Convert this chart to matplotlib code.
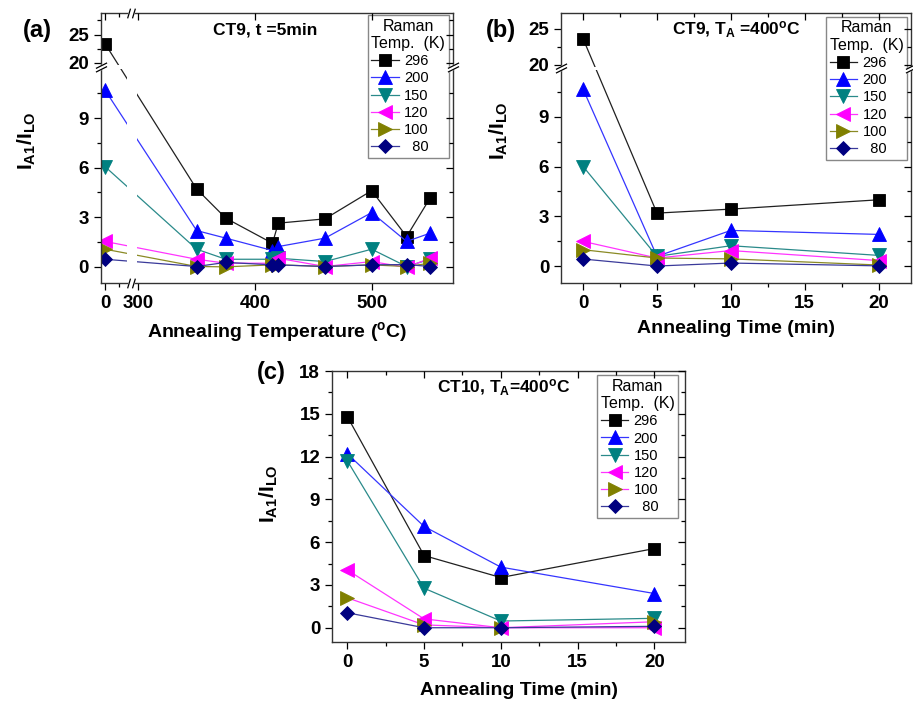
import numpy as np
import matplotlib
matplotlib.use('Agg')
import matplotlib.pyplot as plt
from matplotlib.path import Path

plt.rcParams['font.family'] = ['Liberation Sans', 'DejaVu Sans']
plt.rcParams['font.weight'] = 'bold'
plt.rcParams['axes.labelweight'] = 'bold'
plt.rcParams['mathtext.fontset'] = 'custom'
plt.rcParams['mathtext.rm'] = 'Liberation Sans'
plt.rcParams['mathtext.bf'] = 'Liberation Sans:bold'
plt.rcParams['mathtext.it'] = 'Liberation Sans:italic'

W, H = 913, 704

# --- data ---
LABELS = ['296', '200', '150', '120', '100', '  80']

# (a) CT9, t = 5 min, vs annealing temperature
a_x = [0, 350, 375, 415, 420, 460, 500, 530, 550]
a_296 = [23.4, 4.70, 2.93, 1.41, 2.63, 2.89, 4.60, 1.82, 4.14]
a_200 = [10.7, 2.18, 1.72, 0.97, 1.21, 1.72, 3.27, 1.52, 2.02]
a_150 = [6.06, 1.05, 0.44, 0.44, 0.50, 0.30, 1.05, 0.00, 0.44]
a_120 = [1.52, 0.44, 0.20, 0.20, 0.50, 0.00, 0.30, -0.05, 0.50]
a_100 = [1.05, 0.00, -0.02, 0.10, 0.10, 0.00, 0.10, 0.00, 0.20]
a_80 = [0.44, 0.00, 0.25, 0.10, 0.10, 0.00, 0.10, 0.12, 0.00]

# (b) CT9, TA = 400 C, vs annealing time
b_x = [0, 5, 10, 20]
b_296 = [23.6, 3.20, 3.44, 4.00]
b_200 = [10.64, 0.60, 2.16, 1.92]
b_150 = [6.00, 0.60, 1.24, 0.66]
b_120 = [1.50, 0.50, 0.95, 0.35]
b_100 = [1.00, 0.50, 0.45, 0.08]
b_80 = [0.44, 0.02, 0.20, 0.03]

# (c) CT10, TA = 400 C, vs annealing time
c_x = [0, 5, 10, 20]
c_296 = [14.8, 5.06, 3.52, 5.55]
c_200 = [12.2, 7.10, 4.25, 2.40]
c_150 = [11.7, 2.77, 0.47, 0.66]
c_120 = [4.05, 0.62, 0.00, 0.00]
c_100 = [2.10, 0.20, 0.00, 0.42]
c_80 = [1.05, 0.00, 0.00, 0.10]

# --- styles ---
MARKERS = ['s', '^', 'v', '<', '>', 'D']
MSIZE = [9, 10.5, 10.5, 10.5, 10.5, 7.5]
FACE = ['#000000', '#0000ff', '#008080', '#ff00ff', '#808000', '#000080']
LINE = ['#202020', '#3535ff', '#2a8a8a', '#ff35ff', '#8a8a25', '#3a3a9a']
LINE_C = LINE[:4] + ['#ff35ff'] + LINE[5:]   # in (c) the 100 K line is magenta

# break marks: "//" pairs, plus white fill to cut the spine
MV, LT, CP = Path.MOVETO, Path.LINETO, Path.CLOSEPOLY
SLASH_Y = Path([(-1, -0.83), (1, 0.17), (-1, -0.17), (1, 0.83)], [MV, LT, MV, LT])
GAP_Y = Path([(-1, -0.83), (1, 0.17), (1, 0.83), (-1, -0.17), (-1, -0.83)],
             [MV, LT, LT, LT, CP])
SLASH_X = Path([(-0.8, -1), (-0.2, 1), (0.2, -1), (0.8, 1)], [MV, LT, MV, LT])
GAP_X = Path([(-0.8, -1), (-0.2, 1), (0.8, 1), (0.2, -1), (-0.8, -1)],
             [MV, LT, LT, LT, CP])


def broken(knots, coords):
    # piecewise linear scale, extrapolated at both ends
    knots = np.asarray(knots, float)
    coords = np.asarray(coords, float)

    def make(src, dst):
        s0 = (dst[1] - dst[0]) / (src[1] - src[0])
        s1 = (dst[-1] - dst[-2]) / (src[-1] - src[-2])

        def f(v):
            v = np.asarray(v, float)
            out = np.interp(v, src, dst)
            out = np.where(v < src[0], dst[0] + (v - src[0]) * s0, out)
            out = np.where(v > src[-1], dst[-1] + (v - src[-1]) * s1, out)
            return out
        return f
    return make(knots, coords), make(coords, knots)


def add_panel(left, top, right, bottom):
    rect = [left / W, 1 - bottom / H, (right - left) / W, (bottom - top) / H]
    return fig.add_axes(rect), rect


def plot_series(ax, x, ys, line_colors):
    for y, lab, m, ms, fc, lc in zip(ys, LABELS, MARKERS, MSIZE, FACE, line_colors):
        ax.plot(x, y, color=lc, lw=0.9, marker=m, ms=ms, mfc=fc, mec=fc,
                mew=0.6, label=lab, zorder=2)


def style_axes(ax, rect):
    ax.tick_params(which='both', direction='out', width=0.9, labelsize=13.5, pad=3.5)
    ax.tick_params(which='major', length=5)
    ax.tick_params(which='minor', length=3)
    for sp in ax.spines.values():
        sp.set_linewidth(1.0)
        sp.set_color('#333333')
    # top/right ticks point inward (Origin style): mirror axes sharing the scales
    axm = fig.add_axes(rect, sharex=ax, sharey=ax, frameon=False)
    axm.tick_params(which='both', direction='in', top=True, right=True,
                    bottom=False, left=False, labelbottom=False, labelleft=False,
                    width=0.9)
    axm.tick_params(which='major', length=5)
    axm.tick_params(which='minor', length=3)
    return axm


def add_legend(ax, anchor):
    leg = ax.legend(loc='upper left', bbox_to_anchor=anchor, borderaxespad=0,
                    title='Raman\nTemp.  (K)', numpoints=1, markerscale=1.0,
                    prop={'weight': 'normal', 'size': 10.5},
                    title_fontproperties={'weight': 'normal', 'size': 11.5},
                    fancybox=False, edgecolor='#888888', framealpha=1,
                    borderpad=0.25, handlelength=1.9, handletextpad=0.35,
                    labelspacing=0.22, alignment='left')
    leg.get_title().set_multialignment('center')
    leg.get_title().set_linespacing(1.2)
    leg.get_frame().set_linewidth(1.0)
    leg.set_zorder(6)


def y_break(ax, yb):
    x0, x1 = ax.get_xlim()
    for xx in (x0, x1):
        ax.plot([xx], [yb], marker=GAP_Y, ms=8, mfc='white', mec='white', mew=1.2,
                ls='none', clip_on=False, zorder=10)
        ax.plot([xx], [yb], marker=SLASH_Y, ms=8, mfc='none', mec='black', mew=0.9,
                ls='none', clip_on=False, zorder=11)


def x_break(ax, xb):
    y0, y1 = ax.get_ylim()
    for yy in (y0, y1):
        ax.plot([xb], [yy], marker=GAP_X, ms=7, mfc='white', mec='white', mew=1.2,
                ls='none', clip_on=False, zorder=10)
        ax.plot([xb], [yy], marker=SLASH_X, ms=7, mfc='none', mec='black', mew=0.9,
                ls='none', clip_on=False, zorder=11)


fig = plt.figure(figsize=(W / 100, H / 100), dpi=100)

ylab = r'$\mathbf{I_{A1}/I_{LO}}$'

# ---------------- (a) ----------------
ax, rect = add_panel(100.7, 12.5, 453.3, 283)
fy, iy = broken([-1, 12, 19.6, 28.9], [0, 214.5, 218, 270.7])
fx, ix = broken([-8, 45, 295, 570], [0, 28.6, 31.8, 352.7])
ax.set_yscale('function', functions=(fy, iy))
ax.set_xscale('function', functions=(fx, ix))
ax.set_ylim(-1, 28.9)
ax.set_xlim(-8, 570)
plot_series(ax, a_x, [a_296, a_200, a_150, a_120, a_100, a_80], LINE)
ax.set_yticks([0, 3, 6, 9, 20, 25])
ax.set_yticks([1.5, 4.5, 7.5, 10.5, 22.5, 27.5], minor=True)
ax.set_xticks([0, 300, 400, 500])
ax.set_xticklabels(['0', '300', '400', '500'])
ax.set_xticks([25], minor=True)
ax.axhspan(12, 19.6, color='white', lw=0, zorder=2.1)
ax.axvspan(40, 299, color='white', lw=0, zorder=2.1)
style_axes(ax, rect)
y_break(ax, 15.8)
x_break(ax, 170)
add_legend(ax, (0.757, 0.991))
ax.text(0.466, 0.935, 'CT9, t =5min', transform=ax.transAxes, ha='center',
        va='center', fontsize=12.5, fontweight='bold')
ax.set_xlabel(r'Annealing Temperature ($^\mathbf{o}$C)', fontsize=14)
ax.xaxis.set_label_coords(0.5, -0.138)
ax.set_ylabel(ylab, fontsize=15)
ax.yaxis.set_label_coords(-0.178, 0.525)

# ---------------- (b) ----------------
ax, rect = add_panel(561, 12.5, 911, 283)
fy, iy = broken([-1, 11.8, 19.7, 27.3], [0, 213.3, 216.6, 270.9])
ax.set_yscale('function', functions=(fy, iy))
ax.set_ylim(-1, 27.3)
ax.set_xlim(-1.5, 22.2)
plot_series(ax, b_x, [b_296, b_200, b_150, b_120, b_100, b_80], LINE)
ax.set_yticks([0, 3, 6, 9, 20, 25])
ax.set_yticks([1.5, 4.5, 7.5, 10.5, 22.5], minor=True)
ax.set_xticks([0, 5, 10, 15, 20])
ax.set_xticks([2.5, 7.5, 12.5, 17.5], minor=True)
ax.axhspan(11.8, 19.7, color='white', lw=0, zorder=2.1)
style_axes(ax, rect)
y_break(ax, 15.75)
add_legend(ax, (0.757, 0.984))
ax.text(0.5, 0.935, r'CT9, T$_\mathbf{A}$ =400$^\mathbf{o}$C', transform=ax.transAxes,
        ha='center', va='center', fontsize=12.5, fontweight='bold')
ax.set_xlabel('Annealing Time (min)', fontsize=14)
ax.xaxis.set_label_coords(0.5, -0.138)
ax.set_ylabel(ylab, fontsize=15)
ax.yaxis.set_label_coords(-0.146, 0.562)

# ---------------- (c) ----------------
ax, rect = add_panel(332, 371, 685, 642)
ax.set_ylim(-1, 18)
ax.set_xlim(-1, 22)
plot_series(ax, c_x, [c_296, c_200, c_150, c_120, c_100, c_80], LINE_C)
ax.set_yticks([0, 3, 6, 9, 12, 15, 18])
ax.set_yticks([1.5, 4.5, 7.5, 10.5, 13.5, 16.5], minor=True)
ax.set_xticks([0, 5, 10, 15, 20])
ax.set_xticks([2.5, 7.5, 12.5, 17.5], minor=True)
style_axes(ax, rect)
add_legend(ax, (0.751, 0.985))
ax.text(0.487, 0.937, r'CT10, T$_\mathbf{A}$=400$^\mathbf{o}$C', transform=ax.transAxes,
        ha='center', va='center', fontsize=12.5, fontweight='bold')
ax.set_xlabel('Annealing Time (min)', fontsize=14)
ax.xaxis.set_label_coords(0.53, -0.146)
ax.set_ylabel(ylab, fontsize=15)
ax.yaxis.set_label_coords(-0.147, 0.546)

# panel letters
for lab, px, py in [('(a)', 37, 30), ('(b)', 501, 30), ('(c)', 271, 373)]:
    fig.text(px / W, 1 - py / H, lab, ha='center', va='center', fontsize=17,
             fontweight='bold')

fig.savefig('out.png', dpi=100)
